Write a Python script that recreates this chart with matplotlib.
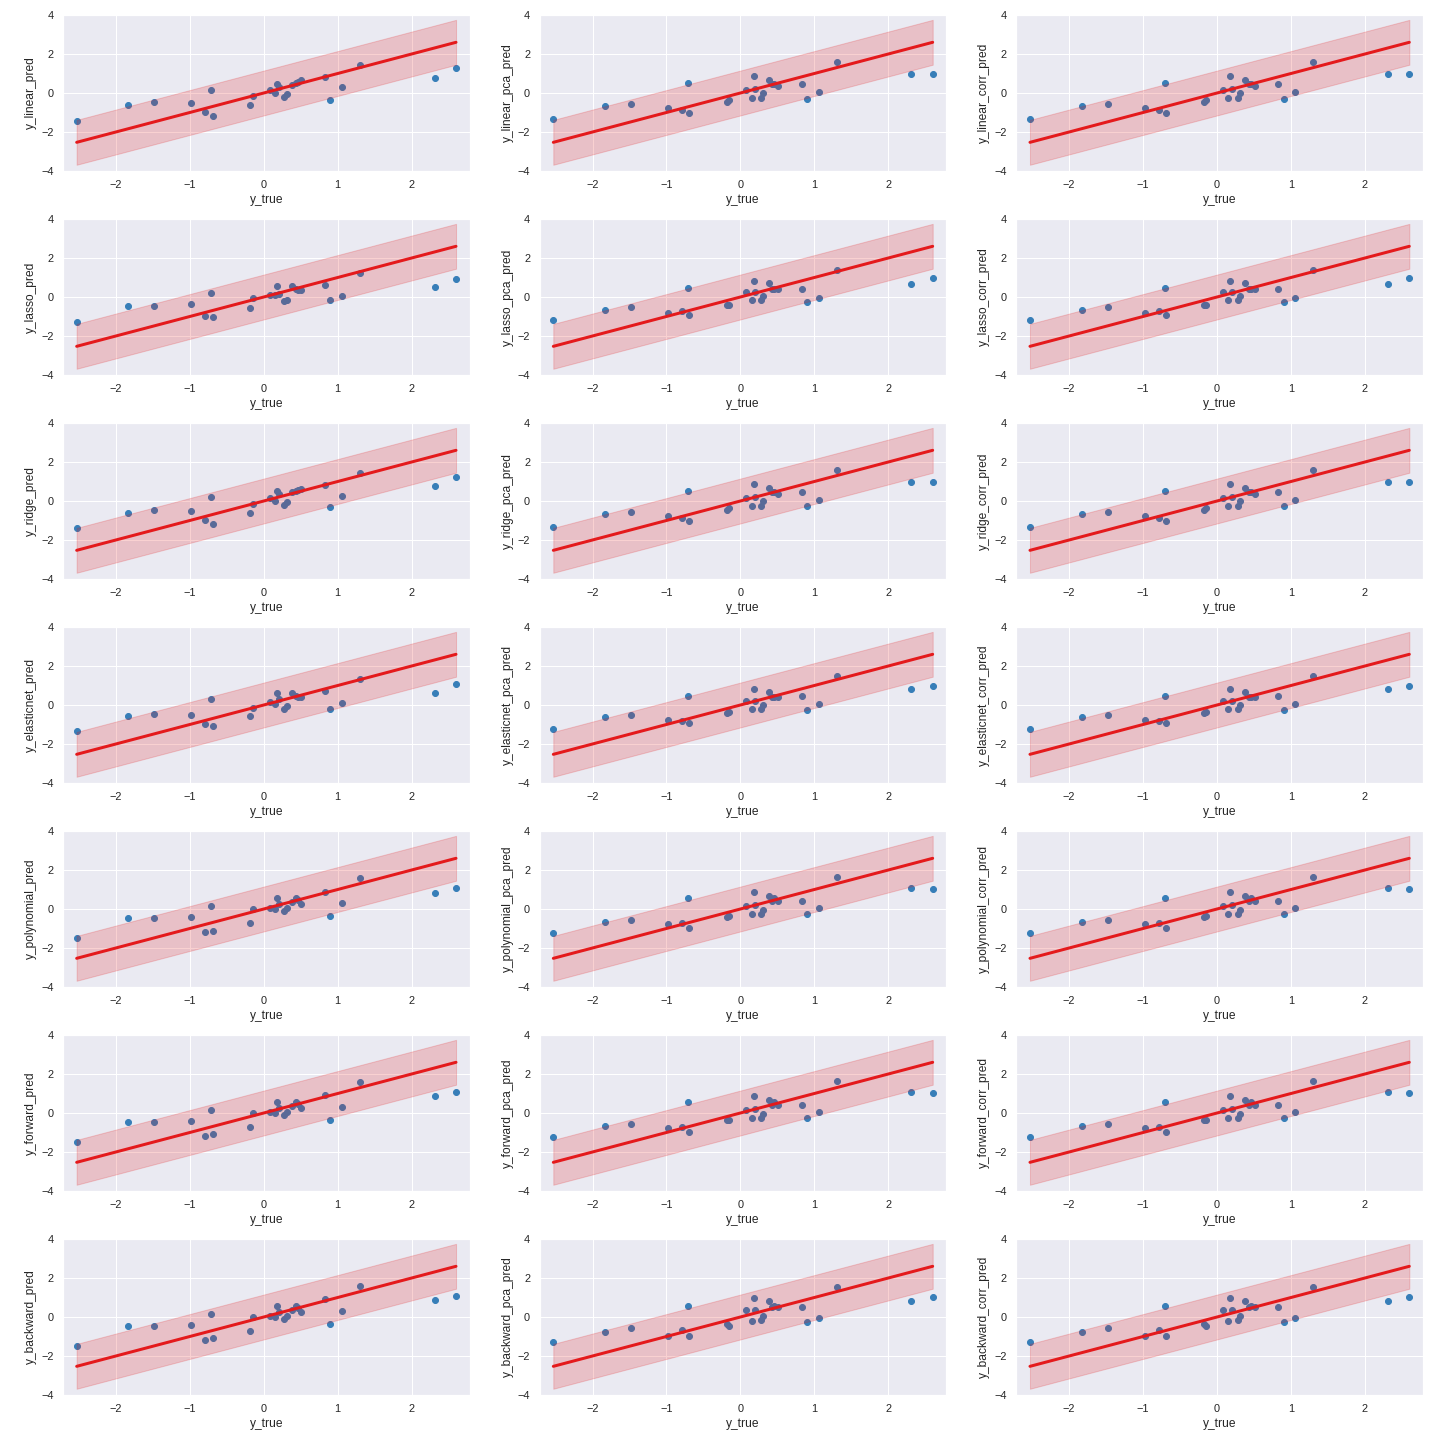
import numpy as np
import matplotlib
matplotlib.use("Agg")
import matplotlib.pyplot as plt
import seaborn as sns

sns.set_theme(style="darkgrid")
plt.rcParams['font.family'] = ['Liberation Sans', 'DejaVu Sans']

y_true = [-2.53, -1.83, -1.48, -0.98, -0.79, -0.71, -0.69, -0.18, -0.15, 0.08, 0.15, 0.18, 0.20,
          0.28, 0.31, 0.38, 0.43, 0.46, 0.51, 0.83, 0.90, 1.06, 1.30, 2.31, 2.60]

y_linear_pred = [-1.44, -0.62, -0.46, -0.51, -0.98, 0.15, -1.18, -0.62, -0.15, 0.17, 0.00, 0.46, 0.30,
                 -0.21, -0.05, 0.39, 0.51, 0.55, 0.69, 0.82, -0.36, 0.31, 1.46, 0.77, 1.29]
y_linear_pca_pred = [-1.34, -0.67, -0.57, -0.77, -0.87, 0.51, -1.03, -0.46, -0.36, 0.17, -0.26, 0.87, 0.21,
                     -0.26, 0.00, 0.67, 0.46, 0.46, 0.36, 0.46, -0.31, 0.05, 1.60, 0.98, 0.98]
y_linear_corr_pred = [-1.34, -0.67, -0.57, -0.77, -0.87, 0.51, -1.03, -0.46, -0.36, 0.17, -0.26, 0.87, 0.21,
                      -0.26, 0.00, 0.67, 0.46, 0.46, 0.36, 0.46, -0.31, 0.05, 1.60, 0.98, 0.98]

y_lasso_pred = [-1.29, -0.46, -0.46, -0.36, -0.98, 0.21, -1.03, -0.57, -0.03, 0.10, 0.10, 0.57, 0.15,
                -0.21, -0.15, 0.57, 0.41, 0.34, 0.34, 0.62, -0.15, 0.05, 1.23, 0.51, 0.93]
y_lasso_pca_pred = [-1.18, -0.67, -0.51, -0.82, -0.72, 0.46, -0.93, -0.41, -0.41, 0.26, -0.15, 0.82, 0.26,
                    -0.15, 0.05, 0.72, 0.41, 0.41, 0.41, 0.41, -0.26, -0.05, 1.39, 0.67, 0.98]
y_lasso_corr_pred = [-1.18, -0.67, -0.51, -0.82, -0.72, 0.46, -0.93, -0.41, -0.41, 0.26, -0.15, 0.82, 0.26,
                     -0.15, 0.05, 0.72, 0.41, 0.41, 0.41, 0.41, -0.26, -0.05, 1.39, 0.67, 0.98]

y_ridge_pred = [-1.39, -0.62, -0.46, -0.51, -0.98, 0.21, -1.18, -0.62, -0.15, 0.17, 0.00, 0.51, 0.38,
                -0.21, -0.05, 0.46, 0.51, 0.55, 0.63, 0.82, -0.31, 0.26, 1.46, 0.77, 1.23]
y_ridge_pca_pred = [-1.34, -0.67, -0.57, -0.77, -0.87, 0.51, -1.03, -0.46, -0.36, 0.17, -0.26, 0.87, 0.21,
                    -0.26, 0.00, 0.67, 0.46, 0.46, 0.36, 0.46, -0.26, 0.05, 1.60, 0.98, 0.98]
y_ridge_corr_pred = [-1.34, -0.67, -0.57, -0.77, -0.87, 0.51, -1.03, -0.46, -0.36, 0.17, -0.26, 0.87, 0.21,
                     -0.26, 0.00, 0.67, 0.46, 0.46, 0.36, 0.46, -0.26, 0.05, 1.60, 0.98, 0.98]

y_elasticnet_pred = [-1.34, -0.57, -0.46, -0.51, -0.98, 0.31, -1.08, -0.57, -0.15, 0.17, 0.05, 0.62, 0.29,
                     -0.21, -0.05, 0.62, 0.46, 0.43, 0.43, 0.72, -0.21, 0.10, 1.34, 0.62, 1.08]
y_elasticnet_pca_pred = [-1.23, -0.62, -0.51, -0.77, -0.82, 0.46, -0.93, -0.41, -0.36, 0.22, -0.21, 0.82, 0.21,
                         -0.21, 0.00, 0.67, 0.43, 0.43, 0.43, 0.46, -0.26, 0.05, 1.51, 0.82, 0.98]
y_elasticnet_corr_pred = [-1.23, -0.62, -0.51, -0.77, -0.82, 0.46, -0.93, -0.41, -0.36, 0.22, -0.21, 0.82, 0.21,
                          -0.21, 0.00, 0.67, 0.43, 0.43, 0.43, 0.46, -0.26, 0.05, 1.51, 0.82, 0.98]

y_polynomial_pred = [-1.49, -0.46, -0.46, -0.41, -1.18, 0.15, -1.13, -0.72, 0.02, 0.05, 0.00, 0.57, 0.26,
                     -0.10, 0.05, 0.36, 0.57, 0.46, 0.26, 0.87, -0.36, 0.31, 1.60, 0.82, 1.08]
y_polynomial_pca_pred = [-1.23, -0.67, -0.57, -0.77, -0.72, 0.57, -0.98, -0.41, -0.36, 0.17, -0.26, 0.87, 0.21,
                         -0.26, -0.05, 0.67, 0.41, 0.55, 0.41, 0.41, -0.26, 0.05, 1.65, 1.08, 1.03]
y_polynomial_corr_pred = [-1.23, -0.67, -0.57, -0.77, -0.72, 0.57, -0.98, -0.41, -0.36, 0.17, -0.26, 0.87, 0.21,
                          -0.26, -0.05, 0.67, 0.41, 0.55, 0.41, 0.41, -0.26, 0.05, 1.65, 1.08, 1.03]

y_forward_pred = [-1.49, -0.46, -0.46, -0.41, -1.18, 0.15, -1.08, -0.72, 0.02, 0.05, 0.00, 0.57, 0.26,
                  -0.10, 0.05, 0.36, 0.57, 0.46, 0.26, 0.93, -0.36, 0.31, 1.60, 0.87, 1.08]
y_forward_pca_pred = [-1.23, -0.67, -0.57, -0.77, -0.72, 0.57, -0.98, -0.36, -0.36, 0.17, -0.26, 0.87, 0.21,
                      -0.26, -0.05, 0.67, 0.41, 0.55, 0.41, 0.41, -0.26, 0.05, 1.65, 1.08, 1.03]
y_forward_corr_pred = [-1.23, -0.67, -0.57, -0.77, -0.72, 0.57, -0.98, -0.36, -0.36, 0.17, -0.26, 0.87, 0.21,
                       -0.26, -0.05, 0.67, 0.41, 0.55, 0.41, 0.41, -0.26, 0.05, 1.65, 1.08, 1.03]

y_backward_pred = [-1.49, -0.46, -0.46, -0.41, -1.18, 0.15, -1.08, -0.72, 0.02, 0.05, 0.00, 0.57, 0.26,
                   -0.10, 0.05, 0.36, 0.57, 0.46, 0.26, 0.93, -0.36, 0.31, 1.60, 0.87, 1.08]
y_backward_pca_pred = [-1.28, -0.75, -0.55, -0.95, -0.65, 0.55, -0.95, -0.35, -0.45, 0.35, -0.20, 0.95, 0.35,
                       -0.15, 0.05, 0.80, 0.50, 0.55, 0.50, 0.50, -0.25, -0.05, 1.55, 0.80, 1.05]
y_backward_corr_pred = [-1.28, -0.75, -0.55, -0.95, -0.65, 0.55, -0.95, -0.35, -0.45, 0.35, -0.20, 0.95, 0.35,
                        -0.15, 0.05, 0.80, 0.50, 0.55, 0.50, 0.50, -0.25, -0.05, 1.55, 0.80, 1.05]

band_halfwidth = 1.15

panels = [
    ("y_linear_pred", y_linear_pred), ("y_linear_pca_pred", y_linear_pca_pred), ("y_linear_corr_pred", y_linear_corr_pred),
    ("y_lasso_pred", y_lasso_pred), ("y_lasso_pca_pred", y_lasso_pca_pred), ("y_lasso_corr_pred", y_lasso_corr_pred),
    ("y_ridge_pred", y_ridge_pred), ("y_ridge_pca_pred", y_ridge_pca_pred), ("y_ridge_corr_pred", y_ridge_corr_pred),
    ("y_elasticnet_pred", y_elasticnet_pred), ("y_elasticnet_pca_pred", y_elasticnet_pca_pred), ("y_elasticnet_corr_pred", y_elasticnet_corr_pred),
    ("y_polynomial_pred", y_polynomial_pred), ("y_polynomial_pca_pred", y_polynomial_pca_pred), ("y_polynomial_corr_pred", y_polynomial_corr_pred),
    ("y_forward_pred", y_forward_pred), ("y_forward_pca_pred", y_forward_pca_pred), ("y_forward_corr_pred", y_forward_corr_pred),
    ("y_backward_pred", y_backward_pred), ("y_backward_pca_pred", y_backward_pca_pred), ("y_backward_corr_pred", y_backward_corr_pred),
]

red = "#e41a1c"
blue = "#377eb8"

fig, axes = plt.subplots(7, 3, figsize=(20, 20), dpi=72)
fig.subplots_adjust(left=63 / 1440, right=1423 / 1440, top=1 - 15 / 1440, bottom=1 - 1395 / 1440,
                    wspace=70 / 407, hspace=48 / 156)
xt = np.array(y_true)
xline = np.array([xt.min(), xt.max()])
for ax, (name, pred) in zip(axes.flat, panels):
    ax.scatter(xt, pred, color=blue, s=36, zorder=2)
    ax.fill_between(xline, xline - band_halfwidth, xline + band_halfwidth, color=red, alpha=0.2, zorder=3)
    ax.plot(xline, xline, color=red, lw=3, zorder=4)
    ax.margins(x=0.036)
    ax.set_ylim(-4, 4)
    ax.set_yticks([-4, -2, 0, 2, 4])
    ax.set_xticks([-2, -1, 0, 1, 2])
    ax.set_xlabel("y_true")
    ax.set_ylabel(name)

fig.savefig("out.png", dpi=72)
